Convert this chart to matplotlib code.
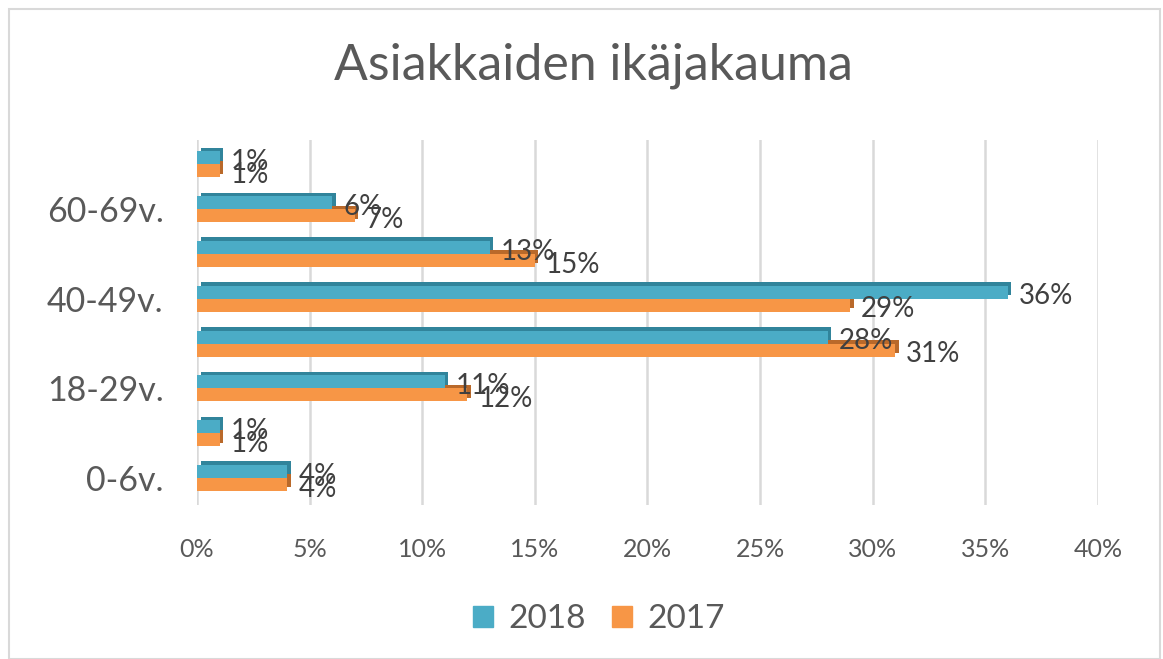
import numpy as np
import matplotlib.pyplot as plt
import matplotlib.transforms as mtransforms
from matplotlib.patches import Rectangle

plt.rcParams['font.family'] = ['Lato', 'DejaVu Sans']

# data
categories = ["0-6v.", "7-17v.", "18-29v.", "30-39v.", "40-49v.", "50-59v.", "60-69v.", "70+v."]
tick_labels = ["0-6v.", "", "18-29v.", "", "40-49v.", "", "60-69v.", ""]
values_2018 = [4, 1, 11, 28, 36, 13, 6, 1]
values_2017 = [4, 1, 12, 31, 29, 15, 7, 1]
x_ticks = [0, 5, 10, 15, 20, 25, 30, 35, 40]

blue, blue_dark = "#4BACC6", "#31849B"
orange, orange_dark = "#F79646", "#B9692A"

fig = plt.figure(figsize=(11.63, 6.59), dpi=100)
ax = fig.add_axes([0.1694, 0.234, 0.7746, 0.554])

# light border round the chart
fig.patches.append(Rectangle((0.008, 0.0), 0.989, 0.986, transform=fig.transFigure,
                             fill=False, edgecolor="#D9D9D9", lw=1.5))

y = np.arange(len(categories))
h = 0.29
shift = mtransforms.ScaledTranslation(0.035, 0.035, fig.dpi_scale_trans)

# 2017 (lower bar in each group), then 2018 on top
for vals, off, col, dark in [(values_2017, -h / 2, orange, orange_dark),
                             (values_2018, h / 2, blue, blue_dark)]:
    back = ax.barh(y + off, vals, height=h, color=dark, zorder=2)
    for p in back:
        p.set_transform(ax.transData + shift)
    ax.barh(y + off, vals, height=h, color=col, zorder=3)

for yi, v in zip(y, values_2018):
    ax.annotate(f"{v}%", (v, yi + h / 2), xytext=(8, -3), textcoords="offset points",
                va="center", ha="left", fontsize=20, color="#404040", zorder=5)
for yi, v in zip(y, values_2017):
    ax.annotate(f"{v}%", (v, yi - h / 2), xytext=(8, -3), textcoords="offset points",
                va="center", ha="left", fontsize=20, color="#404040", zorder=5)

ax.set_xlim(0, 40)
ax.set_ylim(-0.6, 7.55)
ax.set_xticks(x_ticks)
ax.set_xticklabels([f"{t}%" for t in x_ticks], fontsize=18, color="#595959")
ax.set_yticks(y)
ax.set_yticklabels(tick_labels, fontsize=24.5, color="#595959")
ax.tick_params(axis="x", length=0, pad=24)
ax.tick_params(axis="y", length=0, pad=24)
ax.grid(axis="x", color="#D9D9D9", lw=1.8, zorder=0)
ax.set_axisbelow(True)
for s in ax.spines.values():
    s.set_visible(False)

fig.suptitle("Asiakkaiden ikäjakauma", x=0.51, y=0.935, fontsize=36, color="#595959")

handles = [Rectangle((0, 0), 1, 1, color=blue), Rectangle((0, 0), 1, 1, color=orange)]
fig.legend(handles, ["2018", "2017"], loc="center", bbox_to_anchor=(0.515, 0.06), ncol=2,
           frameon=False, fontsize=24, labelcolor="#595959", handlelength=0.6,
           handleheight=0.6, columnspacing=0.8, handletextpad=0.45)

plt.savefig("out.png", dpi=100)
